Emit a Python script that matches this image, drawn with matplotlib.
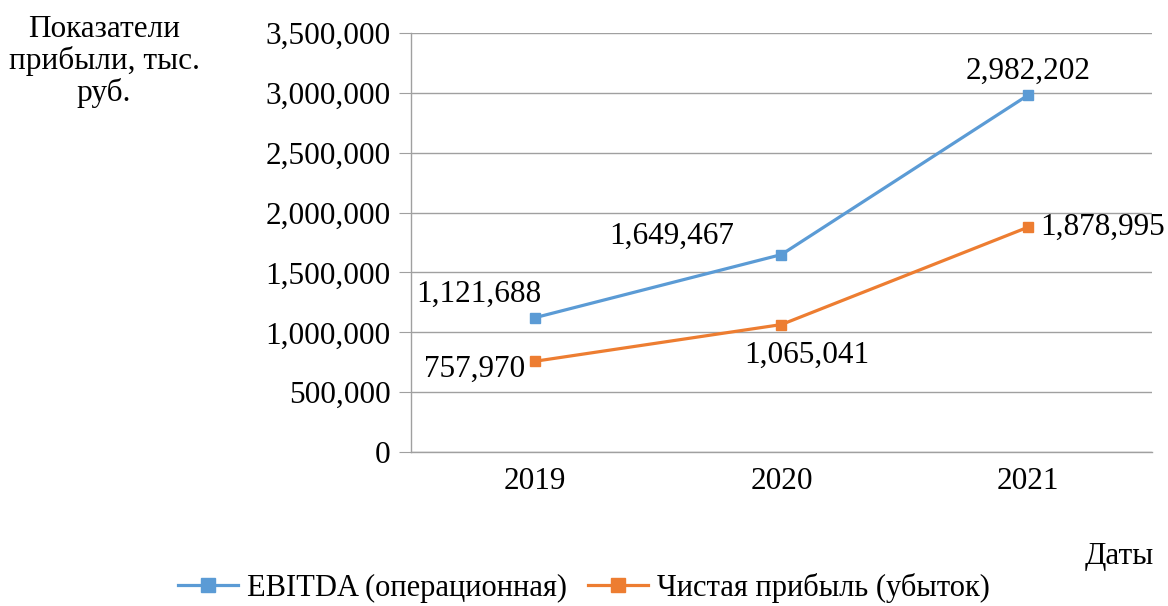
import matplotlib.pyplot as plt
from matplotlib.ticker import FuncFormatter

years = ["2019", "2020", "2021"]
ebitda = [1121688, 1649467, 2982202]
net_profit = [757970, 1065041, 1878995]
series_names = ["EBITDA (операционная)", "Чистая прибыль (убыток)"]

plt.rcParams["font.family"] = ["Liberation Serif", "DejaVu Serif"]
FS = 22.5

fig = plt.figure(figsize=(11.68, 6.06), dpi=100)
ax = fig.add_axes([0.352, 0.254, 0.634, 0.6915])

x = list(range(len(years)))
blue = "#5B9BD5"
orange = "#ED7D31"
ax.plot(x, ebitda, color=blue, lw=2.3, marker="s", ms=7.5, label=series_names[0])
ax.plot(x, net_profit, color=orange, lw=2.3, marker="s", ms=7.5, label=series_names[1])

ax.set_xlim(-0.5, 2.5)
ax.set_ylim(0, 3500000)
ax.set_yticks(range(0, 3500001, 500000))
ax.yaxis.set_major_formatter(FuncFormatter(lambda v, p: f"{int(v):,}"))
ax.set_xticks(x)
ax.set_xticklabels(years)
ax.tick_params(axis="y", labelsize=FS, length=9, color="#a0a0a0", pad=6)
ax.tick_params(axis="x", labelsize=FS, length=0, pad=11)
ax.grid(axis="y", color="#a0a0a0", lw=1)
ax.set_axisbelow(True)
for s in ["top", "right"]:
    ax.spines[s].set_visible(False)
for s in ["left", "bottom"]:
    ax.spines[s].set_color("#a0a0a0")
    ax.spines[s].set_linewidth(1)

fmt = lambda v: f"{v:,}"
# data labels: (offset in points, ha)
eb_pos = [((-40, 17), "center"), ((-79, 13), "center"), ((0, 17), "center")]
np_pos = [((-7, -6), "right"), ((18, -22), "center"), ((9, 0), "left")]
for i in x:
    (dx, dy), ha = eb_pos[i]
    ax.annotate(fmt(ebitda[i]), (i, ebitda[i]), xytext=(dx, dy), textcoords="offset points",
                ha=ha, va="center", fontsize=FS)
    (dx, dy), ha = np_pos[i]
    ax.annotate(fmt(net_profit[i]), (i, net_profit[i]), xytext=(dx, dy), textcoords="offset points",
                ha=ha, va="center", fontsize=FS)

fig.text(0.089, 0.975, "Показатели\nприбыли, тыс.\nруб.", ha="center", va="top",
         fontsize=FS, linespacing=1.08)
fig.text(0.988, 0.082, "Даты", ha="right", va="center", fontsize=FS)

fig.legend(loc="center", bbox_to_anchor=(0.5, 0.030), ncol=2, frameon=False,
           fontsize=22, handlelength=1.95, columnspacing=0.7, handletextpad=0.3,
           markerscale=1.35)

fig.savefig("out.png", dpi=100)
